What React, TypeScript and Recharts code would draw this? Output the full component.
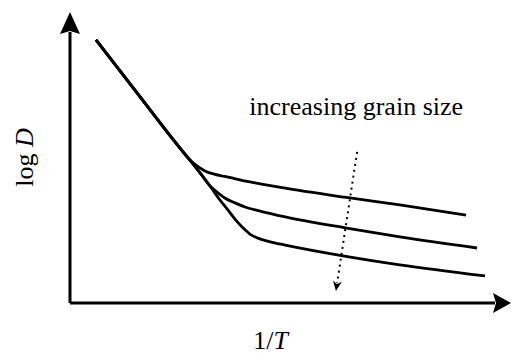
import {
	ComposedChart,
	Line,
	ReferenceDot,
	ReferenceLine,
	XAxis,
	YAxis,
} from "recharts";

// 1/T and log D in arbitrary units (0..10 on both axes)
const steepPart = [
	{ x: 0.59, y: 9.04 },
	{ x: 1.59, y: 7.08 },
	{ x: 2.49, y: 5.33 },
	{ x: 2.72, y: 4.91 },
];

const smallGrain = [
	...steepPart,
	{ x: 2.88, y: 4.71 },
	{ x: 3.06, y: 4.54 },
	{ x: 3.29, y: 4.42 },
	{ x: 3.51, y: 4.35 },
	{ x: 4.08, y: 4.16 },
	{ x: 4.88, y: 3.95 },
	{ x: 6.35, y: 3.61 },
	{ x: 7.48, y: 3.37 },
	{ x: 8.98, y: 3.02 },
];

const mediumGrain = [
	...steepPart,
	{ x: 2.95, y: 4.47 },
	{ x: 3.17, y: 4.03 },
	{ x: 3.36, y: 3.78 },
	{ x: 3.51, y: 3.61 },
	{ x: 3.74, y: 3.44 },
	{ x: 3.97, y: 3.3 },
	{ x: 4.31, y: 3.16 },
	{ x: 4.88, y: 2.96 },
	{ x: 6.24, y: 2.58 },
	{ x: 7.48, y: 2.27 },
	{ x: 9.23, y: 1.89 },
];

const largeGrain = [
	...steepPart,
	{ x: 2.95, y: 4.47 },
	{ x: 3.17, y: 4.03 },
	{ x: 3.4, y: 3.54 },
	{ x: 3.58, y: 3.2 },
	{ x: 3.76, y: 2.85 },
	{ x: 3.95, y: 2.54 },
	{ x: 4.08, y: 2.37 },
	{ x: 4.26, y: 2.23 },
	{ x: 4.54, y: 2.1 },
	{ x: 4.88, y: 1.99 },
	{ x: 6.19, y: 1.62 },
	{ x: 7.48, y: 1.31 },
	{ x: 9.41, y: 0.93 },
];

const grainArrow = [
	{ x: 6.51, y: 5.19 },
	{ x: 6.03, y: 0.41 },
];
const grainText = { x: 6.49, y: 6.46, label: "increasing grain size" };

const FONT = "'Liberation Serif', 'Times New Roman', serif";

function arrowShape(headLen: number, headHalf: number, width: number, dash?: string) {
	return (props: any) => {
		const { x1, y1, x2, y2 } = props;
		const dx = x2 - x1;
		const dy = y2 - y1;
		const len = Math.sqrt(dx * dx + dy * dy);
		const ux = dx / len;
		const uy = dy / len;
		const bx = x2 - ux * headLen;
		const by = y2 - uy * headLen;
		const px = -uy * headHalf;
		const py = ux * headHalf;
		return (
			<g>
				<line
					x1={x1}
					y1={y1}
					x2={bx + ux * 2}
					y2={by + uy * 2}
					stroke="#000"
					strokeWidth={width}
					strokeDasharray={dash}
				/>
				<polygon
					points={`${x2},${y2} ${bx + px},${by + py} ${bx + ux * 3},${by + uy * 3} ${bx - px},${by - py}`}
					fill="#000"
				/>
			</g>
		);
	};
}

export default function App() {
	return (
		<div style={{ position: "absolute", left: 0, top: 0, background: "#fff" }}>
			<ComposedChart
				width={511}
				height={354}
				margin={{ top: 12, right: 0, bottom: 0, left: 0 }}
			>
				<XAxis
					type="number"
					dataKey="x"
					domain={[0, 10]}
					height={51}
					axisLine={false}
					tickLine={false}
					tick={false}
					label={{
						content: (p: any) => {
							const vb = p.viewBox;
							return (
								<text
									x={vb.x + vb.width * 0.455}
									y={vb.y + 46}
									textAnchor="middle"
									fontFamily={FONT}
									fontSize={26}
									fill="#000"
								>
									1/<tspan fontStyle="italic">T</tspan>
								</text>
							);
						},
					}}
				/>
				<YAxis
					type="number"
					dataKey="y"
					domain={[0, 10]}
					width={70}
					axisLine={false}
					tickLine={false}
					tick={false}
					label={{
						content: (p: any) => {
							const vb = p.viewBox;
							const cx = vb.x + 24;
							const cy = vb.y + vb.height * 0.5;
							return (
								<text
									x={cx}
									y={cy}
									transform={`rotate(-90 ${cx} ${cy})`}
									textAnchor="middle"
									dominantBaseline="central"
									fontFamily={FONT}
									fontSize={26}
									fill="#000"
								>
									log <tspan fontStyle="italic">D</tspan>
								</text>
							);
						},
					}}
				/>
				<ReferenceLine
					segment={[
						{ x: 0, y: 0 },
						{ x: 10, y: 0 },
					]}
					ifOverflow="visible"
					shape={arrowShape(18, 10, 3)}
				/>
				<ReferenceLine
					segment={[
						{ x: 0, y: 0 },
						{ x: 0, y: 10 },
					]}
					ifOverflow="visible"
					shape={arrowShape(22, 10, 3)}
				/>
				<Line
					data={smallGrain}
					dataKey="y"
					type="monotone"
					stroke="#000"
					strokeWidth={2.8}
					dot={false}
					isAnimationActive={false}
				/>
				<Line
					data={mediumGrain}
					dataKey="y"
					type="monotone"
					stroke="#000"
					strokeWidth={2.8}
					dot={false}
					isAnimationActive={false}
				/>
				<Line
					data={largeGrain}
					dataKey="y"
					type="monotone"
					stroke="#000"
					strokeWidth={2.8}
					dot={false}
					isAnimationActive={false}
				/>
				<ReferenceLine
					segment={grainArrow}
					ifOverflow="visible"
					shape={arrowShape(10, 4.5, 2, "2 4")}
				/>
				<ReferenceDot
					x={grainText.x}
					y={grainText.y}
					ifOverflow="visible"
					shape={(p: any) => (
						<text
							x={p.cx}
							y={p.cy}
							textAnchor="middle"
							fontFamily={FONT}
							fontSize={26}
							fill="#000"
						>
							{grainText.label}
						</text>
					)}
				/>
			</ComposedChart>
		</div>
	);
}
